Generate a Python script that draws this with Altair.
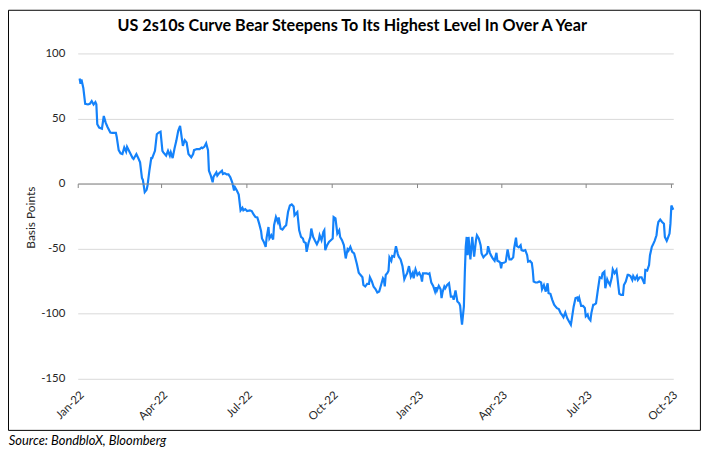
import altair as alt
import pandas as pd

TITLE = "US 2s10s Curve Bear Steepens To Its Highest Level In Over A Year"
SOURCE = "Source: BondbloX, Bloomberg"
Y_TITLE = "Basis Points"
START = "2022-01-01"

# days since 2022-01-01
day_offsets = [
    2, 3, 4, 6, 8, 11, 13, 15, 17, 19, 20, 21, 23, 26, 28, 30, 32, 35, 37, 41,
    42, 44, 46, 48, 50, 52, 53, 56, 59, 60, 63, 65, 67, 69, 70, 72, 74, 75, 77, 79,
    80, 83, 85, 87, 89, 91, 92, 95, 97, 99, 100, 102, 104, 106, 108, 110, 113, 115, 117, 119,
    122, 124, 125, 128, 131, 133, 134, 136, 138, 140, 141, 143, 145, 146, 149, 150, 152, 155, 156, 158,
    160, 162, 164, 166, 168, 169, 171, 173, 175, 177, 178, 180, 182, 185, 187, 189, 191, 193, 195, 197,
    198, 200, 202, 203, 205, 206, 208, 210, 211, 213, 215, 216, 218, 220, 222, 224, 226, 228, 230, 232,
    233, 236, 238, 240, 242, 243, 245, 246, 248, 250, 251, 253, 255, 257, 259, 260, 262, 264, 265, 266,
    268, 270, 272, 274, 275, 277, 279, 281, 282, 284, 286, 288, 290, 291, 293, 295, 297, 298, 300, 302,
    304, 306, 307, 309, 311, 313, 314, 316, 318, 320, 322, 324, 326, 328, 329, 330, 331, 333, 334, 335,
    337, 338, 340, 342, 344, 345, 347, 349, 351, 353, 354, 356, 358, 360, 361, 363, 365, 367, 369, 370,
    371, 373, 375, 377, 378, 380, 382, 384, 385, 386, 388, 390, 391, 392, 394, 395, 397, 399, 401, 403,
    404, 406, 408, 410, 411, 412, 413, 415, 416, 417, 418, 419, 420, 422, 424, 425, 426, 428, 429, 431,
    433, 434, 436, 438, 440, 441, 443, 444, 446, 448, 450, 451, 453, 454, 455, 456, 458, 460, 462, 464,
    466, 468, 469, 471, 472, 474, 476, 477, 479, 481, 483, 484, 486, 488, 489, 490, 492, 494, 496, 498,
    499, 501, 503, 505, 506, 508, 510, 512, 514, 515, 517, 519, 521, 522, 524, 526, 528, 530, 531, 533,
    535, 537, 538, 539, 541, 543, 545, 546, 548, 549, 551, 552, 554, 555, 557, 559, 561, 563, 564, 566,
    567, 569, 570, 572, 574, 575, 577, 579, 580, 582, 584, 586, 587, 589, 591, 592, 594, 596, 597, 599,
    601, 602, 604, 606, 608, 609, 610, 612, 614, 615, 617, 618, 620, 622, 623, 624, 626, 628, 630, 631,
    633, 634, 636, 637, 638, 640,
]

spread_bp = [
    80.7, 76.6, 79.9, 73.5, 61.3, 60.8, 61.3, 63.4, 60.8, 62.6, 61.0, 45.6, 43.0, 42.2, 51.9, 46.8, 43.5, 39.2, 39.0, 39.0,
    35.4, 25.7, 23.2, 22.7, 27.7, 24.5, 28.2, 23.9, 19.6, 18.9, 22.7, 19.6, 16.3, 4.3, 2.8, -6.6, -4.8, -1.5, 9.9, 19.6,
    19.6, 25.2, 37.9, 39.2, 39.9, 25.2, 24.0, 21.4, 25.2, 21.4, 24.0, 19.6, 27.0, 33.0, 40.5, 44.3, 29.0, 33.3, 31.5, 22.7,
    20.1, 22.7, 25.7, 26.5, 26.5, 27.7, 27.2, 28.2, 31.0, 25.7, 9.9, 6.1, 1.0, 5.3, 8.6, 6.1, 8.0, 9.9, 7.4, 8.0,
    7.0, 7.0, 4.8, 1.0, -5.3, -2.8, -5.3, -8.4, -20.6, -18.6, -20.6, -19.6, -21.1, -20.6, -21.1, -23.7, -25.7, -26.0, -30.8, -36.4,
    -42.2, -44.8, -48.6, -41.5, -33.4, -42.2, -39.7, -43.0, -32.0, -25.7, -29.5, -26.0, -34.6, -35.4, -33.4, -32.0, -21.9, -16.8, -16.0, -17.6,
    -24.4, -21.9, -35.9, -41.0, -42.2, -44.8, -45.6, -52.4, -45.6, -41.0, -34.6, -41.0, -44.0, -46.6, -43.5, -39.7, -43.5, -37.1, -35.9, -51.1,
    -47.3, -44.8, -43.5, -42.2, -25.7, -26.7, -38.4, -35.9, -41.0, -43.5, -47.3, -57.5, -50.6, -51.6, -48.6, -52.4, -53.6, -56.2, -61.8, -68.5,
    -70.3, -72.0, -77.9, -79.1, -77.1, -77.1, -72.0, -75.0, -79.3, -81.0, -83.7, -83.0, -77.9, -72.8, -74.0, -79.0, -70.2, -68.5, -67.0, -56.7,
    -59.3, -55.7, -56.2, -48.1, -54.2, -56.2, -58.3, -63.4, -73.5, -70.2, -69.0, -63.4, -71.5, -68.5, -72.8, -65.9, -70.2, -68.5, -71.5, -75.3,
    -69.0, -69.0, -69.0, -69.5, -69.0, -76.1, -78.6, -83.0, -79.6, -82.2, -78.6, -81.2, -88.0, -83.7, -79.1, -80.4, -77.9, -76.6, -86.8, -86.8,
    -89.3, -82.2, -90.6, -92.0, -93.9, -102.0, -108.4, -94.4, -68.9, -48.6, -41.0, -55.0, -41.0, -58.3, -41.0, -48.6, -56.2, -43.5, -39.7, -42.2,
    -47.3, -53.7, -56.7, -55.0, -53.7, -48.1, -53.2, -55.0, -57.5, -59.3, -53.2, -59.3, -60.0, -60.8, -65.1, -61.0, -60.8, -60.0, -50.6, -58.3,
    -58.3, -56.7, -49.9, -41.5, -48.1, -49.0, -47.3, -51.1, -51.6, -51.1, -55.0, -60.0, -59.3, -61.0, -66.4, -75.3, -76.0, -76.0, -75.3, -76.0,
    -81.2, -78.0, -83.0, -76.6, -84.2, -84.7, -89.3, -93.1, -94.9, -95.7, -96.4, -99.5, -101.5, -102.7, -99.0, -103.3, -105.9, -108.4, -104.0, -94.4,
    -88.0, -87.5, -90.6, -88.0, -93.9, -93.9, -95.6, -102.0, -100.5, -103.3, -105.1, -99.5, -93.1, -93.1, -92.1, -81.7, -72.0, -72.7, -68.9, -67.6,
    -80.4, -73.5, -75.3, -77.9, -72.0, -65.9, -68.9, -66.4, -72.0, -84.7, -85.5, -85.5, -77.9, -75.3, -70.2, -70.2, -71.0, -74.0, -71.0, -73.5,
    -71.0, -74.0, -72.0, -72.0, -75.3, -77.1, -66.4, -66.9, -62.6, -55.0, -48.6, -47.3, -44.0, -39.7, -33.4, -29.5, -27.7, -29.5, -30.8, -41.0,
    -44.0, -42.2, -38.4, -30.8, -16.8, -20.1,
]

tick_months = [(2022, 1), (2022, 4), (2022, 7), (2022, 10), (2023, 1), (2023, 4), (2023, 7), (2023, 10)]
y_ticks = [-150, -100, -50, 0, 50, 100]
y_domain = [-150, 100]

dates = pd.to_datetime(START) + pd.to_timedelta(day_offsets, unit="D")
df = pd.DataFrame({"date": dates, "bp": spread_bp})

FONT = "Lato"
TXT = "#262626"
W, H = 600.3, 328

x_ticks = [alt.DateTime(year=y, month=m, date=1) for y, m in tick_months]
x_domain = [alt.DateTime(year=2022, month=1, date=1), alt.DateTime(year=2023, month=10, date=3)]

line = alt.Chart(df).mark_line(color="#1482FA", strokeWidth=2.2).encode(
    x=alt.X(
        "date:T",
        scale=alt.Scale(domain=x_domain),
        axis=alt.Axis(
            values=x_ticks, format="%b-%y", labelAngle=-45, offset=-196.8,
            domainColor="#868686", domainWidth=1, tickColor="#868686", tickSize=4,
            labelPadding=203, labelFont=FONT, labelFontSize=11.5, labelColor=TXT,
            labelFlush=False, labelOverlap=False, grid=False, title=None, zindex=1,
        ),
    ),
    y=alt.Y(
        "bp:Q",
        scale=alt.Scale(domain=y_domain, nice=False, zero=False),
        axis=alt.Axis(
            values=y_ticks, labelExpr="datum.value + ''", domain=False, ticks=False,
            labelPadding=13, labelFont=FONT, labelFontSize=11.5, labelColor=TXT,
            labelFlush=False, gridColor="#d9d9d9", gridWidth=1,
            title=Y_TITLE, titleX=-48, titleY=165, titleAngle=-90, titleAlign="center",
            titleBaseline="middle", titleFont=FONT, titleFontSize=12,
            titleFontWeight="normal", titleColor=TXT,
        ),
    ),
)

border = alt.Chart(pd.DataFrame({"k": [0]})).mark_rect(
    fillOpacity=0, stroke="#000000", strokeWidth=1
).encode(
    x=alt.value(-69.8), x2=alt.value(627.7), y=alt.value(-43.5), y2=alt.value(380)
)

title = alt.Chart(pd.DataFrame({"t": [TITLE]})).mark_text(
    font=FONT, fontSize=16.3, fontWeight="bold", color="#000000", align="center", baseline="middle"
).encode(x=alt.value(276.7), y=alt.value(-28), text="t:N")

source = alt.Chart(pd.DataFrame({"t": [SOURCE]})).mark_text(
    font=FONT, fontSize=13, fontStyle="italic", color="#000000", align="left", baseline="middle"
).encode(x=alt.value(-69.5), y=alt.value(391), text="t:N")

chart = alt.layer(border, line, title, source).properties(
    width=W, height=H,
    padding={"left": 70.3, "top": 44, "right": 30, "bottom": 72},
    autosize=alt.AutoSizeParams(type="none"),
).configure_view(strokeWidth=0)

chart.save("out.html", embed_options={"renderer": "svg", "actions": False})
